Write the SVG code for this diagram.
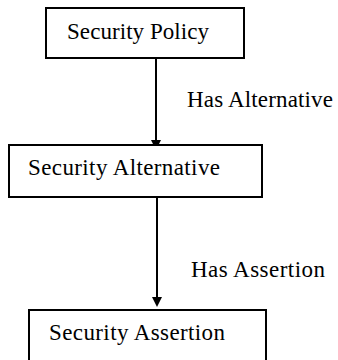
<svg xmlns="http://www.w3.org/2000/svg" width="338" height="360" viewBox="0 0 338 360">
<style>
.box{fill:#fff;stroke:#000;stroke-width:2}
.t{font-family:"Liberation Serif","Times New Roman",serif;font-size:23px;fill:#000}
.c{stroke:#000;stroke-width:2;fill:none}
</style>
<defs>
<marker id="ah" markerWidth="10" markerHeight="10" refX="5" refY="10" orient="auto" markerUnits="userSpaceOnUse" viewBox="0 0 10 10">
<path d="M0,0 L10,0 L5,10 Z" fill="#000" transform="rotate(-90 5 5)"/>
</marker>
</defs>
<rect width="338" height="360" fill="#fff"/>
<g id="connectors">
<line class="c" x1="156" y1="58" x2="156" y2="141"/>
<path d="M151,140 L161,140 L156,150 Z" fill="#000"/>
<line class="c" x1="157" y1="197" x2="157" y2="298"/>
<path d="M152,297 L162,297 L157,307 Z" fill="#000"/>
<text class="t" x="187" y="107" textLength="146" lengthAdjust="spacing">Has Alternative</text>
<text class="t" x="191" y="277" textLength="134" lengthAdjust="spacing">Has Assertion</text>
</g>
<g id="policy">
<rect class="box" x="46" y="8" width="198" height="50"/>
<text class="t" x="67" y="39" textLength="142" lengthAdjust="spacing">Security Policy</text>
</g>
<g id="alternative">
<rect class="box" x="9" y="145" width="253" height="52"/>
<text class="t" x="28" y="175" textLength="192" lengthAdjust="spacing">Security Alternative</text>
</g>
<g id="assertion">
<rect class="box" x="29" y="310" width="237" height="60"/>
<text class="t" x="49" y="340" textLength="176" lengthAdjust="spacing">Security Assertion</text>
</g>
</svg>
